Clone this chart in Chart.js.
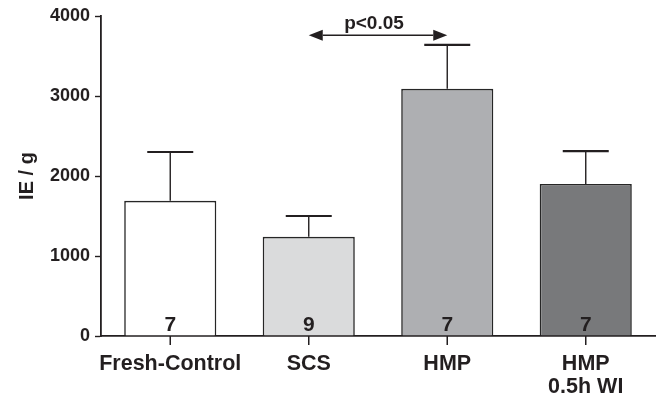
<!DOCTYPE html>
<html>
<head>
<meta charset="utf-8">
<script src="https://cdn.jsdelivr.net/npm/chart.js@4.4.1/dist/chart.umd.min.js"></script>
<style>
  html, body { margin: 0; padding: 0; background: #fff; }
  #wrap { width: 659px; height: 399px; }
</style>
</head>
<body>
<div id="wrap"><canvas id="chart" width="659" height="399"></canvas></div>
<script>
const groups = ['Fresh-Control', 'SCS', 'HMP', ['HMP', '0.5h WI']];
const means = [1690, 1240, 3090, 1900];
const sem = [610, 260, 550, 410];
const nCounts = ['7', '9', '7', '7'];
const barColors = ['#ffffff', '#dadbdc', '#aeafb2', '#78797b'];
const yTicks = [0, 1000, 2000, 3000, 4000];

// significance bracket: between SCS and HMP
const sigFrom = 1, sigTo = 2, sigLevel = 3760, sigText = 'p<0.05';

const FONT = '"Liberation Sans", Arial, Helvetica, sans-serif';
const INK = '#231f20';

const errorBars = {
    id: 'errorBars',
    afterDatasetsDraw(chart) {
        const ctx = chart.ctx;
        const meta = chart.getDatasetMeta(0);
        const y = chart.scales.y;
        const base = y.getPixelForValue(0);
        ctx.save();
        ctx.strokeStyle = INK;
        meta.data.forEach((bar, i) => {
            const top = y.getPixelForValue(means[i] + sem[i]);
            ctx.lineWidth = 1.4;
            ctx.beginPath();
            ctx.moveTo(bar.x, bar.y);
            ctx.lineTo(bar.x, top);
            ctx.stroke();
            ctx.lineWidth = 2.2;
            ctx.beginPath();
            ctx.moveTo(bar.x - 23, top);
            ctx.lineTo(bar.x + 23, top);
            ctx.stroke();

            // category tick below the axis
            ctx.lineWidth = 1.5;
            ctx.beginPath();
            ctx.moveTo(bar.x, base);
            ctx.lineTo(bar.x, base + 9);
            ctx.stroke();

            // n per group
            ctx.fillStyle = INK;
            ctx.font = 'bold 21px ' + FONT;
            ctx.textAlign = 'center';
            ctx.textBaseline = 'alphabetic';
            ctx.fillText(nCounts[i], bar.x, base - 5);
        });
        ctx.restore();
    }
};

const sigArrow = {
    id: 'sigArrow',
    afterDraw(chart) {
        const ctx = chart.ctx;
        const x1 = chart.scales.x.getPixelForValue(sigFrom);
        const x2 = chart.scales.x.getPixelForValue(sigTo);
        const yy = chart.scales.y.getPixelForValue(sigLevel);
        const head = 14, half = 5.5;
        ctx.save();
        ctx.strokeStyle = INK;
        ctx.fillStyle = INK;
        ctx.lineWidth = 1.4;
        ctx.beginPath();
        ctx.moveTo(x1 + head, yy);
        ctx.lineTo(x2 - head, yy);
        ctx.stroke();
        ctx.beginPath();
        ctx.moveTo(x1, yy);
        ctx.lineTo(x1 + head, yy - half);
        ctx.lineTo(x1 + head, yy + half);
        ctx.closePath();
        ctx.fill();
        ctx.beginPath();
        ctx.moveTo(x2, yy);
        ctx.lineTo(x2 - head, yy - half);
        ctx.lineTo(x2 - head, yy + half);
        ctx.closePath();
        ctx.fill();
        ctx.font = 'bold 19px ' + FONT;
        ctx.textAlign = 'center';
        ctx.textBaseline = 'alphabetic';
        ctx.fillText(sigText, (x1 + x2) / 2 - 4, yy - 6);
        ctx.restore();
    }
};

new Chart(document.getElementById('chart'), {
    type: 'bar',
    data: {
        labels: groups,
        datasets: [{
            data: means,
            backgroundColor: barColors,
            borderColor: '#262626',
            borderWidth: 1.6,
            barPercentage: 0.665,
            categoryPercentage: 1.0
        }]
    },
    options: {
        responsive: false,
        animation: false,
        devicePixelRatio: 1,
        layout: { padding: { top: 16, right: 4, left: 0, bottom: 0 } },
        plugins: {
            legend: { display: false },
            tooltip: { enabled: false }
        },
        scales: {
            x: {
                grid: {
                    display: false
                },
                border: { display: true, color: INK, width: 1.8 },
                ticks: {
                    color: INK,
                    padding: 8,
                    maxRotation: 0,
                    autoSkip: false,
                    font: { family: FONT, size: 21.5, weight: 'bold', lineHeight: 1.1 }
                },
                afterFit(scale) { scale.height = 63; }
            },
            y: {
                min: 0,
                max: 4000,
                afterBuildTicks(scale) { scale.ticks = yTicks.map(v => ({ value: v })); },
                grid: {
                    drawOnChartArea: false,
                    drawTicks: true,
                    tickLength: 6,
                    tickWidth: 1.4,
                    color: INK
                },
                border: { display: true, color: INK, width: 1.8 },
                ticks: {
                    color: INK,
                    padding: 5,
                    font: { family: FONT, size: 18, weight: 'bold' },
                    callback: v => String(v)
                },
                title: {
                    display: true,
                    text: 'IE / g',
                    color: INK,
                    padding: { top: 15, bottom: 0 },
                    font: { family: FONT, size: 20, weight: 'bold' }
                },
                afterFit(scale) { scale.width = 101; }
            }
        }
    },
    plugins: [errorBars, sigArrow]
});
</script>
</body>
</html>
